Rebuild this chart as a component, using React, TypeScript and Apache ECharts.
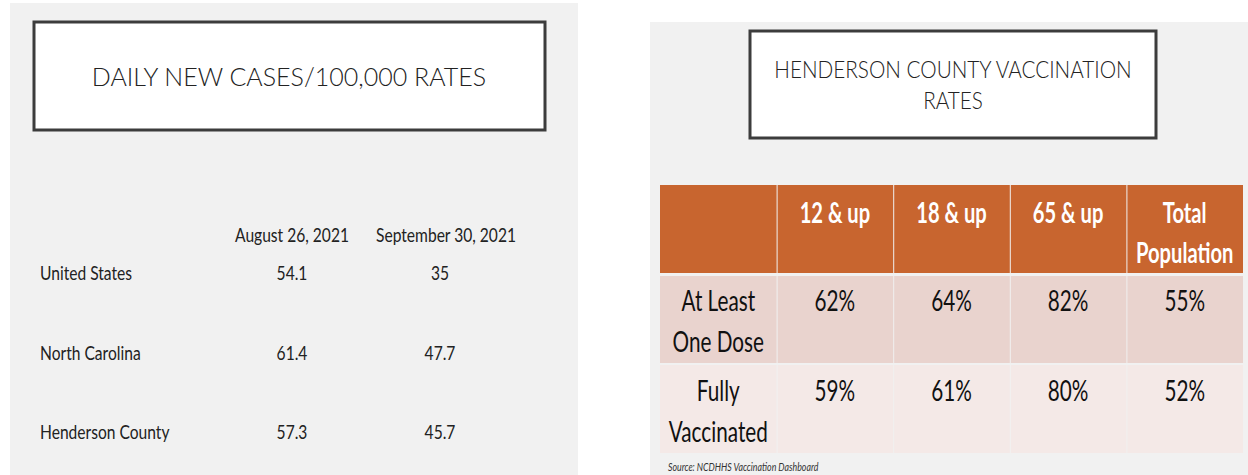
import React, { useEffect, useRef } from "react";
import * as echarts from "echarts";

// Left panel data
const leftTitle = "DAILY NEW CASES/100,000 RATES";
const leftDates = ["August 26, 2021", "September 30, 2021"];
const leftRegions = ["United States", "North Carolina", "Henderson County"];
const augValues = ["54.1", "61.4", "57.3"];
const sepValues = ["35", "47.7", "45.7"];

// Right panel data
const rightTitle = ["HENDERSON COUNTY VACCINATION", "RATES"];
const ageGroups = [["12 & up"], ["18 & up"], ["65 & up"], ["Total", "Population"]];
const doseRows = [["At Least", "One Dose"], ["Fully", "Vaccinated"]];
const atLeastOne = ["62%", "64%", "82%", "55%"];
const fullyVax = ["59%", "61%", "80%", "52%"];
const sourceNote = "Source: NCDHHS Vaccination Dashboard";

const FONT = "Lato, 'Open Sans', sans-serif";
const DARK = "#222222";

function txt(x: number, y: number, text: string, size: number, opts: any = {}) {
  return {
    type: "text",
    x,
    y,
    scaleX: opts.sx ?? 1,
    style: {
      text,
      font: `${opts.style ?? ""} ${opts.weight ?? "normal"} ${size}px ${FONT}`,
      fill: opts.fill ?? DARK,
      align: opts.align ?? "center",
      verticalAlign: "middle",
    },
  };
}

function buildGraphics() {
  const els: any[] = [];
  // backgrounds
  els.push({ type: "rect", shape: { x: 10, y: 3, width: 568, height: 472 }, style: { fill: "#f1f1f1" } });
  els.push({ type: "rect", shape: { x: 650, y: 22, width: 598, height: 453 }, style: { fill: "#f1f1f1" } });

  // Left title box
  els.push({ type: "rect", shape: { x: 34, y: 22, width: 511, height: 108 }, style: { fill: "#fff", stroke: "#3c3c3c", lineWidth: 3 } });
  els.push(txt(289, 76, leftTitle, 25, { weight: 300 }));

  // Left table
  const LS = 0.78;
  const colX = [292, 446];
  leftDates.forEach((d, i) => els.push(txt(colX[i], 234, d, 20, { sx: LS })));
  const rowY = [272, 352, 431];
  leftRegions.forEach((r, i) => {
    els.push(txt(40, rowY[i], r, 20, { sx: LS, align: "left" }));
    els.push(txt(colX[0], rowY[i], augValues[i], 20, { sx: LS }));
    els.push(txt(colX[1] - 6, rowY[i], sepValues[i], 20, { sx: LS }));
  });

  // Right title box
  els.push({ type: "rect", shape: { x: 750, y: 31, width: 406, height: 107 }, style: { fill: "#fff", stroke: "#3c3c3c", lineWidth: 3 } });
  els.push(txt(953, 69, rightTitle[0], 23, { weight: 300, sx: 0.9 }));
  els.push(txt(953, 100, rightTitle[1], 23, { weight: 300, sx: 0.9 }));

  // Right table
  const x0 = 660;
  const cw = 116.6;
  const rows = [
    { y: 185, h: 88, fill: "#c8652f" },
    { y: 276, h: 87, fill: "#e9d3ce" },
    { y: 365, h: 88, fill: "#f4e9e7" },
  ];
  rows.forEach((r) => {
    for (let c = 0; c < 5; c++) {
      els.push({ type: "rect", shape: { x: x0 + c * cw + (c ? 1 : 0), y: r.y, width: cw - (c ? 1 : 0), height: r.h }, style: { fill: r.fill } });
    }
  });
  ageGroups.forEach((lines, i) => {
    const cx = x0 + (i + 1) * cw + cw / 2;
    lines.forEach((t, j) => els.push(txt(cx, 212 + j * 40, t, 28, { weight: "bold", sx: 0.72, fill: "#ffffff" })));
  });
  const bodyRows = [atLeastOne, fullyVax];
  const bodyY = [300, 390];
  doseRows.forEach((lines, r) => {
    lines.forEach((t, j) => els.push(txt(x0 + cw / 2, bodyY[r] + j * 41, t, 28, { sx: 0.74, fill: "#111" })));
    bodyRows[r].forEach((v, i) => els.push(txt(x0 + (i + 1) * cw + cw / 2, bodyY[r], v, 28, { sx: 0.74, fill: "#111" })));
  });
  els.push(txt(668, 467, sourceNote, 11, { style: "italic", sx: 0.8, align: "left", fill: "#333" }));
  return els;
}

export default function App() {
  const ref = useRef<HTMLDivElement>(null);
  useEffect(() => {
    document.body.style.margin = "0";
    const chart = echarts.init(ref.current!, null, { renderer: "svg" });
    chart.setOption({
      animation: false,
      backgroundColor: "#ffffff",
      graphic: { elements: buildGraphics() },
    });
    return () => chart.dispose();
  }, []);
  return <div ref={ref} style={{ width: 1248, height: 475 }} />;
}
